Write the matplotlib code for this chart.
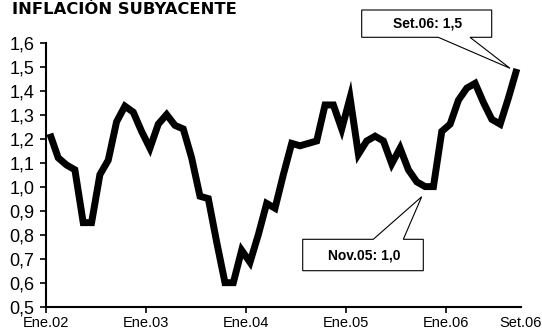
import matplotlib
matplotlib.use("Agg")
import matplotlib.pyplot as plt
from matplotlib.patches import Polygon

# Monthly core inflation, Jan 2002 - Sep 2006 (annual % change)
months = [
    "Ene.02", "Feb.02", "Mar.02", "Abr.02", "May.02", "Jun.02", "Jul.02", "Ago.02", "Set.02", "Oct.02", "Nov.02", "Dic.02",
    "Ene.03", "Feb.03", "Mar.03", "Abr.03", "May.03", "Jun.03", "Jul.03", "Ago.03", "Set.03", "Oct.03", "Nov.03", "Dic.03",
    "Ene.04", "Feb.04", "Mar.04", "Abr.04", "May.04", "Jun.04", "Jul.04", "Ago.04", "Set.04", "Oct.04", "Nov.04", "Dic.04",
    "Ene.05", "Feb.05", "Mar.05", "Abr.05", "May.05", "Jun.05", "Jul.05", "Ago.05", "Set.05", "Oct.05", "Nov.05", "Dic.05",
    "Ene.06", "Feb.06", "Mar.06", "Abr.06", "May.06", "Jun.06", "Jul.06", "Ago.06", "Set.06",
]
core_inflation = [
    1.22, 1.12, 1.09, 1.07, 0.85, 0.85, 1.05, 1.11, 1.27, 1.335, 1.31, 1.23,
    1.16, 1.26, 1.30, 1.255, 1.24, 1.12, 0.96, 0.95, 0.77, 0.60, 0.60, 0.735,
    0.685, 0.80, 0.93, 0.91, 1.05, 1.18, 1.17, 1.18, 1.19, 1.34, 1.34, 1.24,
    1.37, 1.135, 1.19, 1.21, 1.19, 1.095, 1.16, 1.07, 1.02, 1.00, 1.00, 1.23,
    1.26, 1.36, 1.41, 1.43, 1.35, 1.28, 1.26, 1.37, 1.49,
]
tick_labels = ["Ene.02", "Ene.03", "Ene.04", "Ene.05", "Ene.06", "Set.06"]
y_ticks = [0.5, 0.6, 0.7, 0.8, 0.9, 1.0, 1.1, 1.2, 1.3, 1.4, 1.5, 1.6]
callout_months = ["Set.06", "Nov.05"]

W, H = 542, 335
fig = plt.figure(figsize=(W / 100, H / 100), dpi=100)
fig.patch.set_facecolor("white")
ax = fig.add_axes([45.7 / W, 1 - 306.7 / H, (521 - 45.7) / W, (306.7 - 42.5) / H])

x = list(range(len(core_inflation)))
ax.plot(x, core_inflation, color="black", lw=5.0,
        solid_joinstyle="miter", solid_capstyle="butt", zorder=3, clip_on=False)

ax.set_xlim(-0.5, len(core_inflation) - 0.5)
ax.set_ylim(0.5, 1.6)

# Category boundaries every 12 months, plus the last month at the axis end
tick_pos = [months.index(t) - 0.5 for t in tick_labels[:-1]] + [len(core_inflation) - 0.5]
ax.set_xticks(tick_pos)
ax.set_xticklabels(tick_labels, family="Liberation Sans", fontsize=10.5)
ax.xaxis.get_major_ticks()[-1].tick1line.set_visible(False)

ax.set_yticks(y_ticks)
ax.set_yticklabels([f"{v:.1f}".replace(".", ",") for v in y_ticks],
                   family="Liberation Sans", fontsize=13)

for side in ("top", "right"):
    ax.spines[side].set_visible(False)
for side in ("left", "bottom"):
    ax.spines[side].set_linewidth(1.5)
    ax.spines[side].set_color("black")
ax.tick_params(axis="both", direction="out", length=4, width=1.2, color="black")
ax.tick_params(axis="x", pad=3)
ax.tick_params(axis="y", pad=4)

fig.text(12 / W, 1 - 10 / H, "INFLACIÓN SUBYACENTE", fontsize=11.8, fontweight="bold",
         family="DejaVu Sans", va="center", ha="left")


def px(xp, yp):
    return (xp / W, 1 - yp / H)


def callout(box, base, tip, text, text_xy, side):
    x0, y0, x1, y1 = box
    b0, b1 = base
    if side == "bottom":
        pts = [(x0, y0), (x1, y0), (x1, y1), (b1, y1), tip, (b0, y1), (x0, y1)]
    else:
        pts = [(x0, y0), (b0, y0), tip, (b1, y0), (x1, y0), (x1, y1), (x0, y1)]
    poly = Polygon([px(*p) for p in pts], closed=True, transform=fig.transFigure,
                   facecolor="white", edgecolor="black", lw=0.8, zorder=5)
    fig.add_artist(poly)
    fig.text(*px(*text_xy), text, fontsize=10, fontweight="bold",
             family="Liberation Sans", ha="center", va="center", zorder=6)


def fmt(label):
    v = core_inflation[months.index(label)]
    return f"{label}: {v:.1f}".replace(".", ",", 2).replace(",", ".", 1)


callout((361.7, 10, 491.7, 37.3), (438.3, 470), (510, 68.3),
        fmt(callout_months[0]), (427.5, 23.5), "bottom")
callout((302.7, 239.3, 423.3, 270.7), (373.3, 403.3), (421.7, 196.7),
        fmt(callout_months[1]), (364, 255), "top")

fig.savefig("out.png", dpi=100, facecolor="white")
